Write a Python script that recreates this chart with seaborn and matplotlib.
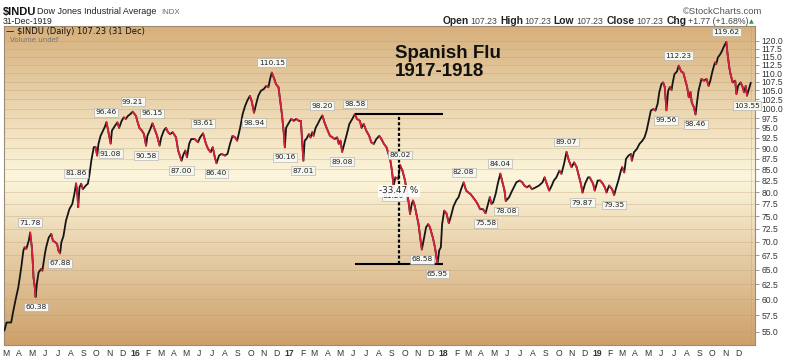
"""
plot.py — Dow Jones Industrial Average 1915-1919 (Spanish flu drawdown)
"""

import numpy as np
import pandas as pd
import matplotlib
matplotlib.use("Agg")
import matplotlib.pyplot as plt
import matplotlib.dates as mdates
from matplotlib.collections import LineCollection
from matplotlib.colors import LinearSegmentedColormap
from matplotlib.ticker import FormatStrFormatter, NullLocator
import seaborn as sns


# ── Data ──────────────────────────────────────────────────────────────────────

dates = [
    # 1915
    "1915-02-25", "1915-03-02", "1915-03-13", "1915-03-17", "1915-03-23", "1915-03-30",
    "1915-04-06", "1915-04-11", "1915-04-14", "1915-04-18", "1915-04-24", "1915-04-27",
    "1915-05-01", "1915-05-03", "1915-05-05", "1915-05-08", "1915-05-10", "1915-05-13",
    "1915-05-17", "1915-05-23", "1915-05-26", "1915-06-01", "1915-06-04", "1915-06-10",
    "1915-06-16", "1915-06-20", "1915-06-26", "1915-06-30", "1915-07-03", "1915-07-07",
    "1915-07-10", "1915-07-15", "1915-07-21", "1915-07-29", "1915-08-05", "1915-08-10",
    "1915-08-14", "1915-08-17", "1915-08-19", "1915-08-22", "1915-08-26", "1915-08-30",
    "1915-09-06", "1915-09-11", "1915-09-15", "1915-09-19", "1915-09-25", "1915-09-29",
    "1915-10-03", "1915-10-06", "1915-10-11", "1915-10-17", "1915-10-22", "1915-10-25",
    "1915-10-29", "1915-11-04", "1915-11-07", "1915-11-14", "1915-11-20", "1915-11-24",
    "1915-11-30", "1915-12-05", "1915-12-10", "1915-12-15", "1915-12-21", "1915-12-26",
    # 1916
    "1916-01-03", "1916-01-06", "1916-01-11", "1916-01-17", "1916-01-22", "1916-01-27",
    "1916-01-30", "1916-02-06", "1916-02-11", "1916-02-15", "1916-02-22", "1916-02-28",
    "1916-03-03", "1916-03-09", "1916-03-14", "1916-03-19", "1916-03-24", "1916-03-30",
    "1916-04-07", "1916-04-12", "1916-04-20", "1916-04-25", "1916-04-29", "1916-05-03",
    "1916-05-08", "1916-05-13", "1916-05-21", "1916-05-29", "1916-06-03", "1916-06-10",
    "1916-06-17", "1916-06-22", "1916-06-28", "1916-07-03", "1916-07-08", "1916-07-12",
    "1916-07-18", "1916-07-24", "1916-08-01", "1916-08-07", "1916-08-13", "1916-08-19",
    "1916-08-25", "1916-08-30", "1916-09-06", "1916-09-12", "1916-09-18", "1916-09-23",
    "1916-09-29", "1916-10-03", "1916-10-09", "1916-10-14", "1916-10-19", "1916-10-25",
    "1916-11-01", "1916-11-07", "1916-11-12", "1916-11-16", "1916-11-20", "1916-11-26",
    "1916-11-30", "1916-12-06", "1916-12-10", "1916-12-14", "1916-12-18", "1916-12-21",
    "1916-12-24", "1916-12-29",
    # 1917
    "1917-01-05", "1917-01-11", "1917-01-17", "1917-01-23", "1917-01-28", "1917-02-03",
    "1917-02-06", "1917-02-10", "1917-02-16", "1917-02-20", "1917-02-24", "1917-02-27",
    "1917-03-04", "1917-03-09", "1917-03-15", "1917-03-20", "1917-03-25", "1917-03-30",
    "1917-04-07", "1917-04-13", "1917-04-18", "1917-04-24", "1917-04-28", "1917-05-02",
    "1917-05-06", "1917-05-12", "1917-05-17", "1917-05-23", "1917-05-30", "1917-06-05",
    "1917-06-10", "1917-06-17", "1917-06-21", "1917-06-26", "1917-07-02", "1917-07-09",
    "1917-07-14", "1917-07-20", "1917-07-26", "1917-08-02", "1917-08-07", "1917-08-13",
    "1917-08-19", "1917-08-24", "1917-08-27", "1917-09-01", "1917-09-05", "1917-09-09",
    "1917-09-16", "1917-09-20", "1917-09-26", "1917-10-02", "1917-10-06", "1917-10-10",
    "1917-10-14", "1917-10-18", "1917-10-21", "1917-10-25", "1917-10-29", "1917-11-03",
    "1917-11-07", "1917-11-11", "1917-11-15", "1917-11-21", "1917-11-26", "1917-11-30",
    "1917-12-07", "1917-12-12", "1917-12-18", "1917-12-22", "1917-12-26", "1917-12-29",
    # 1918
    "1918-01-03", "1918-01-08", "1918-01-14", "1918-01-19", "1918-01-25", "1918-02-01",
    "1918-02-06", "1918-02-12", "1918-02-18", "1918-02-24", "1918-03-01", "1918-03-06",
    "1918-03-12", "1918-03-18", "1918-03-23", "1918-03-29", "1918-04-05", "1918-04-11",
    "1918-04-17", "1918-04-21", "1918-04-25", "1918-04-29", "1918-05-05", "1918-05-10",
    "1918-05-16", "1918-05-20", "1918-05-26", "1918-05-29", "1918-06-06", "1918-06-11",
    "1918-06-17", "1918-06-23", "1918-07-01", "1918-07-07", "1918-07-12", "1918-07-18",
    "1918-07-24", "1918-07-30", "1918-08-08", "1918-08-16", "1918-08-24", "1918-08-29",
    "1918-09-03", "1918-09-09", "1918-09-15", "1918-09-20", "1918-09-26", "1918-10-03",
    "1918-10-08", "1918-10-14", "1918-10-20", "1918-10-26", "1918-11-01", "1918-11-07",
    "1918-11-13", "1918-11-19", "1918-11-23", "1918-11-27", "1918-12-03", "1918-12-10",
    "1918-12-14", "1918-12-22", "1918-12-26",
    # 1919
    "1919-01-02", "1919-01-08", "1919-01-14", "1919-01-19", "1919-01-23", "1919-01-29",
    "1919-02-05", "1919-02-10", "1919-02-15", "1919-02-20", "1919-02-26", "1919-03-01",
    "1919-03-06", "1919-03-10", "1919-03-16", "1919-03-22", "1919-03-24", "1919-03-29",
    "1919-04-05", "1919-04-11", "1919-04-18", "1919-04-23", "1919-04-28", "1919-05-03",
    "1919-05-08", "1919-05-14", "1919-05-19", "1919-05-24", "1919-05-28", "1919-06-02",
    "1919-06-06", "1919-06-10", "1919-06-14", "1919-06-18", "1919-06-22", "1919-06-26",
    "1919-06-29", "1919-07-03", "1919-07-09", "1919-07-13", "1919-07-19", "1919-07-24",
    "1919-07-29", "1919-08-02", "1919-08-06", "1919-08-10", "1919-08-13", "1919-08-18",
    "1919-08-22", "1919-08-25", "1919-08-29", "1919-09-05", "1919-09-11", "1919-09-17",
    "1919-09-22", "1919-09-26", "1919-10-01", "1919-10-07", "1919-10-10", "1919-10-14",
    "1919-10-20", "1919-10-24", "1919-10-27", "1919-11-03", "1919-11-05", "1919-11-10",
    "1919-11-13", "1919-11-18", "1919-11-24", "1919-11-27", "1919-12-01", "1919-12-07",
    "1919-12-12", "1919-12-15", "1919-12-19", "1919-12-22", "1919-12-27", "1919-12-31",
]

closes = [
    # 1915
    55.2, 56.4, 56.4, 57.8, 59.8, 62.0,
    65.4, 68.4, 69.0, 68.7, 70.3, 71.78,
    69.0, 66.6, 63.6, 62.0, 60.38, 62.6,
    64.5, 65.1, 64.8, 67.8, 69.0, 70.8,
    71.5, 70.2, 69.9, 69.6, 68.4, 67.88,
    69.9, 71.1, 74.1, 76.4, 77.5, 79.6,
    81.86, 79.6, 76.8, 81.0, 81.8, 80.6,
    81.4, 81.8, 84.0, 87.0, 90.2, 90.3,
    88.2, 91.0, 93.0, 94.3, 95.5, 96.46,
    94.3, 91.08, 94.3, 95.5, 96.4, 95.0,
    96.8, 97.7, 97.3, 98.1, 98.6, 99.21,
    # 1916
    98.1, 96.8, 95.0, 94.3, 93.4, 90.58,
    93.0, 94.7, 96.15, 95.0, 93.0, 90.6,
    92.6, 94.3, 95.0, 93.9, 93.4, 93.9,
    92.6, 89.4, 87.00, 88.6, 89.4, 87.8,
    91.0, 92.2, 92.2, 91.4, 92.6, 93.61,
    91.0, 89.8, 89.0, 90.2, 87.8, 86.40,
    88.2, 88.6, 88.2, 88.6, 91.0, 93.0,
    92.6, 91.8, 95.0, 98.6, 100.8, 102.2,
    103.5, 102.2, 98.94, 101.3, 103.5, 104.9,
    105.4, 106.3, 105.9, 108.3, 110.15, 108.3,
    106.8, 105.9, 102.2, 98.6, 94.3, 90.16,
    95.0, 96.0,
    # 1917
    97.3, 96.8, 97.3, 96.8, 96.8, 87.01,
    91.8, 92.2, 93.4, 92.6, 93.9, 93.0,
    95.0, 96.0, 97.3, 98.20, 96.4, 95.0,
    93.0, 92.6, 92.2, 92.6, 91.0, 91.8,
    89.08, 91.4, 93.4, 96.0, 97.3, 98.58,
    97.3, 96.8, 95.0, 96.0, 94.3, 93.0,
    91.4, 91.0, 92.2, 93.0, 92.2, 91.0,
    90.2, 88.6, 87.8, 84.7, 81.20, 83.2,
    82.8, 86.02, 84.7, 82.5, 80.3, 78.2,
    75.4, 77.5, 78.2, 77.1, 75.4, 73.4,
    70.8, 68.58, 70.2, 72.8, 73.4, 72.8,
    70.8, 69.0, 65.95, 68.4, 69.0, 73.4,
    # 1918
    76.1, 75.6, 73.6, 75.0, 77.0, 78.3,
    78.9, 80.6, 82.08, 80.3, 79.9, 79.6,
    78.9, 78.2, 77.5, 76.4, 76.4, 75.58,
    77.5, 78.9, 77.5, 77.8, 79.6, 81.8,
    84.04, 82.5, 80.3, 78.08, 78.9, 79.9,
    81.0, 82.1, 82.5, 82.1, 81.4, 81.0,
    81.4, 80.6, 81.0, 81.4, 82.1, 83.2,
    81.8, 80.3, 81.4, 82.5, 83.2, 84.7,
    84.0, 86.2, 89.07, 86.9, 85.5, 86.6,
    85.5, 83.2, 81.8, 79.87, 81.8, 83.2,
    83.2, 81.8, 80.3,
    # 1919
    82.5, 82.5, 81.8, 81.0, 79.9, 81.4,
    80.6, 79.35, 81.0, 82.5, 84.7, 85.5,
    84.3, 87.4, 88.2, 88.6, 87.0, 89.0,
    89.8, 91.0, 91.8, 92.6, 94.3, 96.8,
    99.5, 99.9, 99.5, 101.3, 104.5, 106.8,
    107.3, 106.0, 99.56, 104.9, 106.0, 105.1,
    107.3, 109.7, 110.5, 112.23, 110.5, 110.1,
    107.8, 106.0, 103.1, 104.6, 101.7, 100.4,
    98.46, 101.3, 104.9, 108.3, 107.8, 108.3,
    106.3, 107.8, 110.5, 113.2, 112.7, 114.7,
    115.8, 116.8, 117.8, 119.62, 116.8, 111.7,
    109.7, 107.3, 107.8, 104.0, 106.3, 107.3,
    105.9, 104.5, 106.3, 103.55, 105.6, 107.23,
]

# swing labels printed above peaks / below troughs
peak_dates = ["1915-04-27", "1915-08-14", "1915-10-25", "1915-12-26", "1916-02-11",
              "1916-06-10", "1916-11-20", "1917-03-20", "1917-06-05", "1917-09-20",
              "1918-02-18", "1918-05-16", "1918-10-20", "1919-07-13", "1919-11-03"]
peak_values = [71.78, 81.86, 96.46, 99.21, 96.15, 93.61, 110.15, 98.20, 98.58, 86.02,
               82.08, 84.04, 89.07, 112.23, 119.62]

trough_dates = ["1915-05-10", "1915-07-07", "1915-11-04", "1916-01-27", "1916-04-20",
                "1916-07-12", "1916-10-09", "1916-12-21", "1917-02-03", "1917-05-06",
                "1917-09-05", "1917-11-11", "1917-12-18", "1918-04-11", "1918-05-29",
                "1918-11-27", "1919-02-10", "1919-06-14", "1919-08-22", "1919-12-22"]
trough_values = [60.38, 67.88, 91.08, 90.58, 87.00, 86.40, 98.94, 90.16, 87.01, 89.08,
                 81.20, 68.58, 65.95, 75.58, 78.08, 79.87, 79.35, 99.56, 98.46, 103.55]

# Spanish flu drawdown box
flu_start, flu_end, flu_mid = "1917-06-05", "1918-01-01", "1917-09-18"
flu_high, flu_low = 98.58, 65.95
flu_change = "-33.47 %"

y_ticks = np.arange(55.0, 120.1, 2.5)
month_letters = ["J", "F", "M", "A", "M", "J", "J", "A", "S", "O", "N", "D"]

RED = "#d81f3c"
INK = "#151515"


# ── Figure ────────────────────────────────────────────────────────────────────

W, H = 791, 363
sns.set_theme(style="white")
plt.rcParams["font.family"] = ["Liberation Sans", "DejaVu Sans"]

fig = plt.figure(figsize=(W / 100, H / 100), dpi=100)
fig.patch.set_facecolor("white")

rect = [4 / W, 18 / H, 751 / W, 319 / H]

# tan background gradient of the price panel
bg = fig.add_axes(rect, zorder=0)
tan = LinearSegmentedColormap.from_list(
    "tan", [(0.0, "#d6b07c"), (0.47, "#fdf6dc"), (1.0, "#cda06a")]
)
bg.imshow(np.linspace(0, 1, 256).reshape(-1, 1), cmap=tan, aspect="auto",
          extent=[0, 1, 0, 1])
bg.axis("off")

ax = fig.add_axes(rect, zorder=1)
ax.patch.set_alpha(0)
ax.set_yscale("log")

df = pd.DataFrame({"date": pd.to_datetime(dates), "close": closes})

# up days black, down days red
sns.lineplot(data=df, x="date", y="close", color=INK, lw=1.3, ax=ax, zorder=3)
xn = mdates.date2num(df["date"])
yv = df["close"].to_numpy()
segs = np.stack([np.column_stack([xn[:-1], yv[:-1]]),
                 np.column_stack([xn[1:], yv[1:]])], axis=1)
down = yv[1:] < yv[:-1]
ax.add_collection(LineCollection(segs[down], colors=RED, linewidths=1.3,
                                 capstyle="round", zorder=4))

ax.set_xlim(pd.Timestamp("1915-02-24"), pd.Timestamp("1920-01-10"))
ax.set_ylim(53.1, 124.8)
ax.set_xlabel("")
ax.set_ylabel("")

# y axis on the right
ax.yaxis.tick_right()
ax.set_yticks(y_ticks)
ax.yaxis.set_major_formatter(FormatStrFormatter("%.1f"))
ax.yaxis.set_minor_locator(NullLocator())
ax.tick_params(axis="y", which="major", right=True, length=3, width=0.6,
               color="#8a8a8a", labelsize=6.2, labelcolor="#333333", pad=1.5)

# month letters, year numbers in bold
months = pd.date_range("1915-03-01", "1919-12-01", freq="MS")
labels = [f"{d.year % 100}" if d.month == 1 else month_letters[d.month - 1] for d in months]
ax.set_xticks(months, labels)
for lbl, d in zip(ax.get_xticklabels(), months):
    if d.month == 1:
        lbl.set_fontweight("bold")
        lbl.set_fontsize(7.5)
ax.tick_params(axis="x", which="major", length=0, labelsize=6.2,
               labelcolor="#333333", pad=3)
ax.xaxis.set_minor_locator(mdates.MonthLocator(bymonth=[1, 4, 7, 10]))
ax.tick_params(axis="x", which="minor", length=0)

ax.grid(axis="y", which="major", color="#b89a6c", lw=0.5, alpha=0.45)
ax.grid(axis="x", which="minor", color="#b89a6c", lw=0.5, alpha=0.45)
ax.grid(axis="x", which="major", visible=False)
for side in ax.spines.values():
    side.set_color("#9b8c74")
    side.set_linewidth(0.8)

# swing labels
box = dict(boxstyle="square,pad=0.18", fc="#f7f7f2", ec="#a8a8a8", lw=0.4)
for d, v in zip(peak_dates, peak_values):
    ax.annotate(f"{v:.2f}", xy=(pd.Timestamp(d), v), xytext=(0, 5),
                textcoords="offset points", ha="center", va="bottom",
                fontsize=5.4, family="DejaVu Sans", color="#222222", bbox=box, zorder=6)
for d, v in zip(trough_dates, trough_values):
    ax.annotate(f"{v:.2f}", xy=(pd.Timestamp(d), v), xytext=(0, -5),
                textcoords="offset points", ha="center", va="top",
                fontsize=5.4, family="DejaVu Sans", color="#222222", bbox=box, zorder=6)

# drawdown lines
t0, t1, tm = pd.Timestamp(flu_start), pd.Timestamp(flu_end), pd.Timestamp(flu_mid)
ax.hlines([flu_high, flu_low], t0, t1, color="black", lw=1.5, zorder=5)
ax.vlines(tm, flu_low, flu_high, color="black", lw=1.6,
          linestyles=(0, (1.4, 1.0)), zorder=5)
ax.text(tm, np.sqrt(flu_high * flu_low) * 0.995, flu_change, ha="center", va="center",
        fontsize=6.3, family="DejaVu Sans", color="#222222", zorder=7,
        bbox=dict(boxstyle="square,pad=0.15", fc="white", ec="none", alpha=0.9))

ax.text(0.521, 0.94, "Spanish Flu\n1917-1918", transform=ax.transAxes,
        ha="left", va="top", fontsize=13.5, fontweight="bold", color="#111111",
        linespacing=1.08, zorder=7)

# in-panel legend
ax.text(2 / 751, 1 - 6 / 319, "— $INDU (Daily) 107.23 (31 Dec)", transform=ax.transAxes,
        ha="left", va="center", fontsize=6.0, family="DejaVu Sans", color="#111111")
ax.text(6 / 751, 1 - 14 / 319, "Volume undef", transform=ax.transAxes,
        ha="left", va="center", fontsize=5.0, family="DejaVu Sans", color="#777777")


# ── Header ────────────────────────────────────────────────────────────────────

def head(x, y, s, **kw):
    fig.text(x / W, 1 - y / H, s, ha="left", va="center", **kw)


head(3, 11.5, "$INDU", fontsize=8.0, fontweight="bold", color="#111111")
head(37, 12, "Dow Jones Industrial Average", fontsize=6.5, color="#222222")
head(161, 12, "INDX", fontsize=5.6, color="#666666")
head(3, 21.5, "31-Dec-1919", fontsize=6.2, color="#222222")
head(683, 11.5, "©StockCharts.com", fontsize=6.8, color="#555555")

ohlc = [(443, "Open", True), (470, "107.23", False), (500, "High", True),
        (524, "107.23", False), (553, "Low", True), (576, "107.23", False),
        (607, "Close", True), (636, "107.23", False), (667, "Chg", True),
        (688, "+1.77 (+1.68%)", False)]
for x, s, bold in ohlc:
    head(x, 21.5, s, fontsize=7.4 if bold else 6.3,
         fontweight="bold" if bold else "normal",
         color="#222222" if bold else "#444444")
head(749, 21.5, "▲", fontsize=4.5, color="#2e9a3a", family="DejaVu Sans")

fig.savefig("out.png", dpi=100)
